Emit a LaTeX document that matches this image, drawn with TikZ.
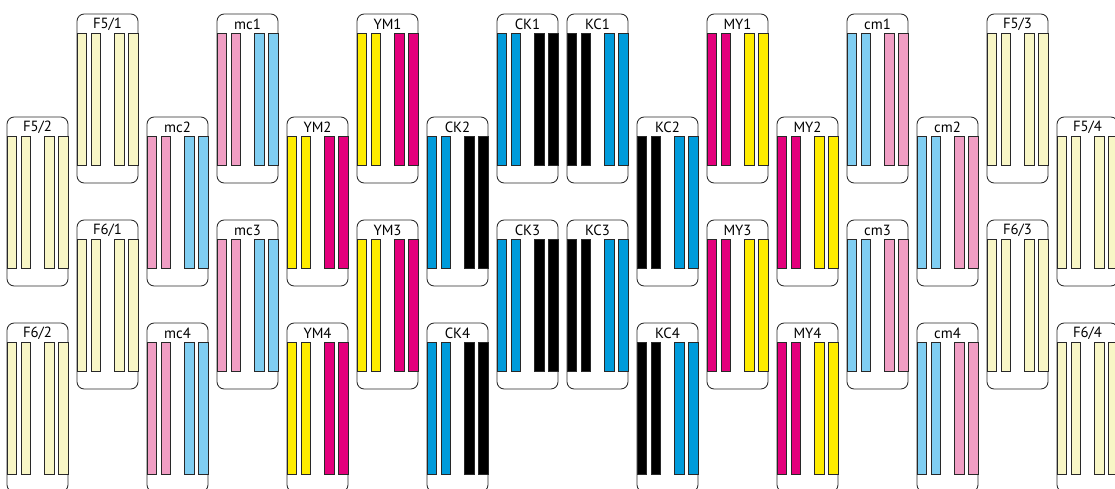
\documentclass[tikz,border=0pt]{standalone}
\usepackage{fontspec}
\setsansfont{PT Sans}
\usetikzlibrary{positioning}
\definecolor{paleyellow}{RGB}{248,246,198}
\definecolor{softpink}{RGB}{240,158,196}
\definecolor{softblue}{RGB}{128,206,242}
\definecolor{inkcyan}{RGB}{0,155,219}
\definecolor{inkmagenta}{RGB}{228,0,124}
\definecolor{inkyellow}{RGB}{255,236,0}
\definecolor{outline}{RGB}{40,40,40}

\tikzset{
  headbox/.style={draw=outline, line width=1.2pt, rounded corners=3.6mm, fill=white},
  nozzle/.style={draw=outline, line width=0.8pt},
  headlabel/.style={font=\sffamily\fontsize{21}{24}\selectfont, inner sep=0pt}
}

% one print head: x, y (top), node name, label, four bar colours
\newcommand{\printhead}[8]{%
  \draw[headbox] (#1,#2) rectangle ++(61,169);
  \node[headlabel] (#3) at (#1+30.5,#2+10) {#4};
  \draw[nozzle, fill=#5] (#1,#2+19) rectangle ++(9.6,132);
  \draw[nozzle, fill=#6] (#1+13.9,#2+19) rectangle ++(9.6,132);
  \draw[nozzle, fill=#7] (#1+37.6,#2+19) rectangle ++(9.6,132);
  \draw[nozzle, fill=#8] (#1+51.4,#2+19) rectangle ++(9.6,132);
}

\begin{document}
\begin{tikzpicture}[x=0.5mm, y=-0.5mm]
        \useasboundingbox (0,0) rectangle (1115,489);
        \clip (0,0) rectangle (1115,489);
        % F5 / F6 heads, left
        \printhead{7}{117}{f52}{F5/2}{paleyellow}{paleyellow}{paleyellow}{paleyellow}
        \printhead{7}{323}{f62}{F6/2}{paleyellow}{paleyellow}{paleyellow}{paleyellow}
        \printhead{77}{14}{f51}{F5/1}{paleyellow}{paleyellow}{paleyellow}{paleyellow}
        \printhead{77}{220}{f61}{F6/1}{paleyellow}{paleyellow}{paleyellow}{paleyellow}
        % light magenta / light cyan
        \printhead{147}{117}{mc2}{mc2}{softpink}{softpink}{softblue}{softblue}
        \printhead{147}{323}{mc4}{mc4}{softpink}{softpink}{softblue}{softblue}
        \printhead{217}{14}{mc1}{mc1}{softpink}{softpink}{softblue}{softblue}
        \printhead{217}{220}{mc3}{mc3}{softpink}{softpink}{softblue}{softblue}
        % yellow / magenta
        \printhead{287}{117}{ym2}{YM2}{inkyellow}{inkyellow}{inkmagenta}{inkmagenta}
        \printhead{287}{323}{ym4}{YM4}{inkyellow}{inkyellow}{inkmagenta}{inkmagenta}
        \printhead{357}{14}{ym1}{YM1}{inkyellow}{inkyellow}{inkmagenta}{inkmagenta}
        \printhead{357}{220}{ym3}{YM3}{inkyellow}{inkyellow}{inkmagenta}{inkmagenta}
        % cyan / black
        \printhead{427}{117}{ck2}{CK2}{inkcyan}{inkcyan}{black}{black}
        \printhead{427}{323}{ck4}{CK4}{inkcyan}{inkcyan}{black}{black}
        \printhead{497}{14}{ck1}{CK1}{inkcyan}{inkcyan}{black}{black}
        \printhead{497}{220}{ck3}{CK3}{inkcyan}{inkcyan}{black}{black}
        % black / cyan
        \printhead{567}{14}{kc1}{KC1}{black}{black}{inkcyan}{inkcyan}
        \printhead{567}{220}{kc3}{KC3}{black}{black}{inkcyan}{inkcyan}
        \printhead{637}{117}{kc2}{KC2}{black}{black}{inkcyan}{inkcyan}
        \printhead{637}{323}{kc4}{KC4}{black}{black}{inkcyan}{inkcyan}
        % magenta / yellow
        \printhead{707}{14}{my1}{MY1}{inkmagenta}{inkmagenta}{inkyellow}{inkyellow}
        \printhead{707}{220}{my3}{MY3}{inkmagenta}{inkmagenta}{inkyellow}{inkyellow}
        \printhead{777}{117}{my2}{MY2}{inkmagenta}{inkmagenta}{inkyellow}{inkyellow}
        \printhead{777}{323}{my4}{MY4}{inkmagenta}{inkmagenta}{inkyellow}{inkyellow}
        % light cyan / light magenta
        \printhead{847}{14}{cm1}{cm1}{softblue}{softblue}{softpink}{softpink}
        \printhead{847}{220}{cm3}{cm3}{softblue}{softblue}{softpink}{softpink}
        \printhead{917}{117}{cm2}{cm2}{softblue}{softblue}{softpink}{softpink}
        \printhead{917}{323}{cm4}{cm4}{softblue}{softblue}{softpink}{softpink}
        % F5 / F6 heads, right
        \printhead{987}{14}{f53}{F5/3}{paleyellow}{paleyellow}{paleyellow}{paleyellow}
        \printhead{987}{220}{f63}{F6/3}{paleyellow}{paleyellow}{paleyellow}{paleyellow}
        \printhead{1057}{117}{f54}{F5/4}{paleyellow}{paleyellow}{paleyellow}{paleyellow}
        \printhead{1057}{323}{f64}{F6/4}{paleyellow}{paleyellow}{paleyellow}{paleyellow}
\end{tikzpicture}
\end{document}
